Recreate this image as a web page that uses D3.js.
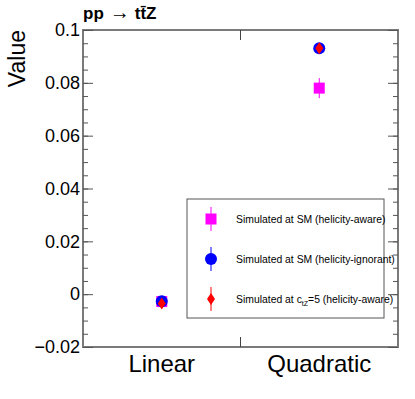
<!DOCTYPE html>
<html>
<head>
<meta charset="utf-8">
<script src="https://cdn.jsdelivr.net/npm/d3@7"></script>
<style>
  body { margin: 0; background: #fff; }
  svg { display: block; font-family: "Liberation Sans", Arial, sans-serif; }
</style>
</head>
<body>
<svg id="chart" width="415" height="399"></svg>
<script>
// data
const categories = ["Linear", "Quadratic"];
const yTicks = [-0.02, 0, 0.02, 0.04, 0.06, 0.08, 0.1];
const awareSM = [-0.0028, 0.078];
const awareErr = [0.0012, 0.0038];
const ignorantSM = [-0.0027, 0.0931];
const ignorantErr = [0.0008, 0.001];
const ctz5 = [-0.0035, 0.0931];
const ctz5Err = [0.0012, 0.001];
const legendLabels = ["Simulated at SM (helicity-aware)", "Simulated at SM (helicity-ignorant)", "Simulated at c_tZ=5 (helicity-aware)"];

const svg = d3.select("#chart");
const padL = 83, padR = 398, padT = 30, padB = 347;

const x = d3.scaleBand().domain(categories).range([padL, padR]);
const y = d3.scaleLinear().domain([-0.02, 0.1]).range([padB, padT]);
const minor = d3.range(-0.02, 0.1001, 0.005).map(d => +d.toFixed(4));

// frame
svg.append("rect")
  .attr("x", padL).attr("y", padT)
  .attr("width", padR - padL).attr("height", padB - padT)
  .attr("fill", "none").attr("stroke", "#7a7a7a").attr("stroke-width", 2);

// left axis, major + minor
const fmt = d3.format("~g");
const gl = svg.append("g").attr("transform", `translate(${padL},0)`);
gl.call(d3.axisLeft(y).tickValues(yTicks).tickSize(-10).tickPadding(3).tickFormat(fmt));
gl.append("g").call(d3.axisLeft(y).tickValues(minor).tickSize(-5).tickFormat(""));
gl.selectAll(".domain").remove();
gl.selectAll("line").attr("stroke", "#555");
gl.selectAll("text").attr("font-size", 18).attr("fill", "#000");

// right axis, no labels
const gr = svg.append("g").attr("transform", `translate(${padR},0)`);
gr.call(d3.axisRight(y).tickValues(yTicks).tickSize(-10).tickFormat(""));
gr.append("g").call(d3.axisRight(y).tickValues(minor).tickSize(-5).tickFormat(""));
gr.selectAll(".domain").remove();
gr.selectAll("line").attr("stroke", "#555");

// bin separators on top / bottom
const sep = x(categories[1]);
svg.append("line").attr("x1", sep).attr("x2", sep).attr("y1", padB).attr("y2", padB - 10).attr("stroke", "#444");
svg.append("line").attr("x1", sep).attr("x2", sep).attr("y1", padT).attr("y2", padT + 10).attr("stroke", "#444");

// category labels
svg.selectAll("text.cat").data(categories).enter().append("text")
  .attr("class", "cat")
  .attr("x", d => x(d) + x.bandwidth() / 2)
  .attr("y", 372)
  .attr("text-anchor", "middle")
  .attr("font-size", 24)
  .text(d => d);

// y title
svg.append("text")
  .attr("transform", `translate(25,${padT}) rotate(-90)`)
  .attr("text-anchor", "end")
  .attr("font-size", 23)
  .text("Value");

// title
const title = svg.append("text").attr("x", 83).attr("y", 19).attr("font-size", 17);
title.append("tspan").attr("font-weight", "bold").text("pp");
title.append("tspan").attr("dx", 6).attr("font-size", 20).text("\u2192");
title.append("tspan").attr("dx", 5).attr("font-weight", "bold").text("tt\u0304Z");

// markers
const cx = d => x(d) + x.bandwidth() / 2;
const diamond = (px, py) => `M${px},${py - 6}L${px + 4},${py}L${px},${py + 6}L${px - 4},${py}Z`;

function errBars(vals, errs, color) {
  svg.selectAll(null).data(categories).enter().append("line")
    .attr("x1", cx).attr("x2", cx)
    .attr("y1", (d, i) => y(vals[i] + errs[i]))
    .attr("y2", (d, i) => y(vals[i] - errs[i]))
    .attr("stroke", color).attr("stroke-width", 1);
}

errBars(awareSM, awareErr, "#ff00ff");
svg.selectAll(null).data(categories).enter().append("rect")
  .attr("x", d => cx(d) - 5.5).attr("y", (d, i) => y(awareSM[i]) - 5.5)
  .attr("width", 11).attr("height", 11).attr("fill", "#ff00ff");

errBars(ignorantSM, ignorantErr, "#0000ff");
svg.selectAll(null).data(categories).enter().append("circle")
  .attr("cx", cx).attr("cy", (d, i) => y(ignorantSM[i]))
  .attr("r", 6).attr("fill", "#0000ff");

errBars(ctz5, ctz5Err, "#ff0000");
svg.selectAll(null).data(categories).enter().append("path")
  .attr("d", (d, i) => diamond(cx(d), y(ctz5[i])))
  .attr("fill", "#ff0000");

// legend
const lg = svg.append("g");
lg.append("rect").attr("x", 187).attr("y", 199).attr("width", 197).attr("height", 119)
  .attr("fill", "#fff").attr("stroke", "#555").attr("stroke-width", 1);
const ly = [219, 259, 299];
const lcol = ["#ff00ff", "#0000ff", "#ff0000"];
ly.forEach((yy, i) => {
  lg.append("line").attr("x1", 211).attr("x2", 211).attr("y1", yy - 12).attr("y2", yy + 12)
    .attr("stroke", lcol[i]).attr("stroke-width", 1);
});
lg.append("rect").attr("x", 205.5).attr("y", ly[0] - 5.5).attr("width", 11).attr("height", 11).attr("fill", lcol[0]);
lg.append("circle").attr("cx", 211).attr("cy", ly[1]).attr("r", 6).attr("fill", lcol[1]);
lg.append("path").attr("d", diamond(211, ly[2])).attr("fill", lcol[2]);

const fs = 10.4;
lg.append("text").attr("x", 236).attr("y", ly[0] + 4).attr("font-size", fs).text(legendLabels[0]);
lg.append("text").attr("x", 236).attr("y", ly[1] + 4).attr("font-size", fs).text(legendLabels[1]);
const t3 = lg.append("text").attr("x", 236).attr("y", ly[2] + 4).attr("font-size", fs);
t3.append("tspan").text("Simulated at c");
t3.append("tspan").attr("font-size", 7).attr("dy", 3).text("tZ");
t3.append("tspan").attr("dy", -3).text("=5 (helicity-aware)");
</script>
</body>
</html>
